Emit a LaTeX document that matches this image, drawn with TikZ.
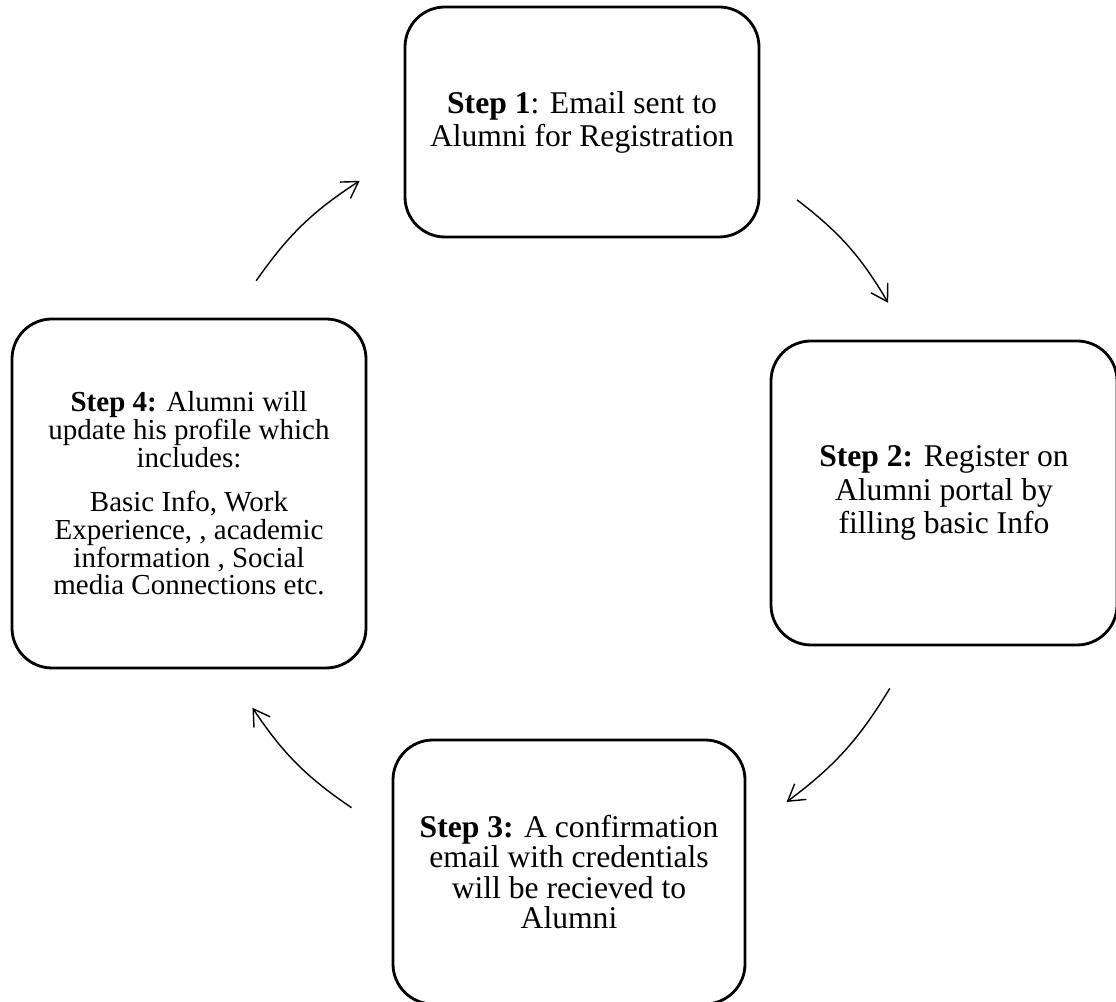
\documentclass[tikz,border=0pt]{standalone}
\usepackage{fontspec}
\setmainfont{Liberation Serif}
\usetikzlibrary{arrows.meta,calc}

\begin{document}
\begin{tikzpicture}
    \tikzset{stepbox/.style = {shape=rectangle,draw,line width=1.6pt,rounded corners=0.8cm,align=center,inner sep=0pt}}
    \tikzset{flow/.style = {-{Straight Barb[length=0.32cm,width=0.39cm]},line width=0.8pt}}
    \useasboundingbox (0,0) rectangle (22.32,20.04);
    % steps
    \node[stepbox,font=\fontsize{18}{18.8}\selectfont,minimum width=7.08cm,minimum height=4.6cm] (s1) at (11.64,17.6) {\textbf{Step 1}: Email sent to\\Alumni for Registration};
    \node[stepbox,font=\fontsize{18}{19.3}\selectfont,minimum width=6.92cm,minimum height=6.08cm] (s2) at (18.88,10.18) {\textbf{Step 2:} Register on\\Alumni portal by\\filling basic Info};
    \node[stepbox,font=\fontsize{18}{17.2}\selectfont,minimum width=7.04cm,minimum height=5.28cm] (s3) at (11.38,2.6) {\textbf{Step 3:} A confirmation\\email with credentials\\will be recieved to\\Alumni};
    \node[stepbox,font=\fontsize{16.5}{15.8}\selectfont,minimum width=7.08cm,minimum height=6.98cm] (s4) at (3.78,10.17) {\textbf{Step 4:} Alumni will\\update his profile which\\includes:\\[0.33cm]Basic Info, Work\\Experience, , academic\\information , Social\\media Connections etc.};
    % arrow ends on a ring
    \coordinate (hub) at (11.3,10.1);
    \coordinate (a4) at ($(hub)+(145:7.54)$);
    \coordinate (b1) at ($(hub)+(123:7.54)$);
    \coordinate (a1) at ($(hub)+(52:7.54)$);
    \coordinate (b2) at ($(hub)+(31:7.54)$);
    \coordinate (a2) at ($(hub)+(-30.5:7.54)$);
    \coordinate (b3) at ($(hub)+(-54:7.54)$);
    \coordinate (a3) at ($(hub)+(-124.5:7.54)$);
    \coordinate (b4) at ($(hub)+(-146:7.54)$);
    % arrows
    \draw[flow] (a1) to[bend left=11] (b2);
    \draw[flow] (a2) to[bend left=11] (b3);
    \draw[flow] (a3) to[bend left=11] (b4);
    \draw[flow] (a4) to[bend left=11] (b1);
\end{tikzpicture}
\end{document}
